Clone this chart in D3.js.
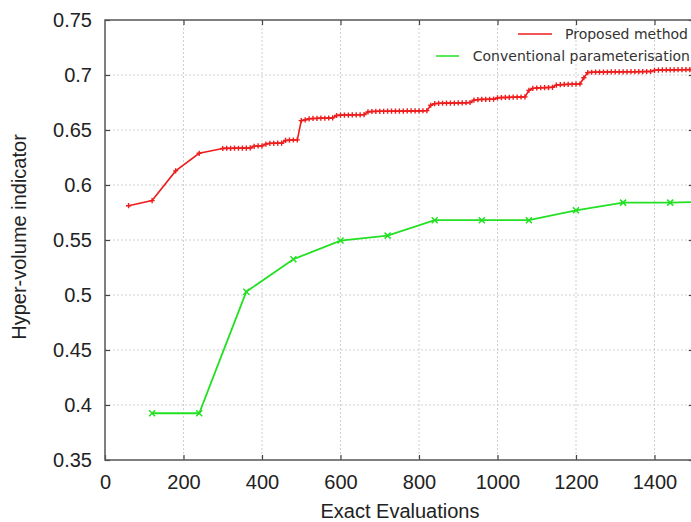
<!DOCTYPE html>
<html>
<head>
<meta charset="utf-8">
<script src="https://cdn.jsdelivr.net/npm/d3@7"></script>
<style>
  body { margin: 0; background: #fff; }
  svg { display: block; }
</style>
</head>
<body>
<div id="stage"></div>
<script>
// evaluations / hyper-volume for the proposed method (red)
const proposedEvals = [60, 120, 180, 240,
  300, 310, 320, 330, 340, 350, 360, 370, 380, 390, 400, 410, 420, 430, 440, 450,
  460, 470, 480, 490, 500, 510, 520, 530, 540, 550, 560, 570, 580, 590, 600, 610,
  620, 630, 640, 650, 660, 670, 680, 690, 700, 710, 720, 730, 740, 750, 760, 770,
  780, 790, 800, 810, 820, 830, 840, 850, 860, 870, 880, 890, 900, 910, 920, 930,
  940, 950, 960, 970, 980, 990, 1000, 1010, 1020, 1030, 1040, 1050, 1060, 1070,
  1080, 1090, 1100, 1110, 1120, 1130, 1140, 1150, 1160, 1170, 1180, 1190, 1200, 1210,
  1220, 1230, 1240, 1250, 1260, 1270, 1280, 1290, 1300, 1310, 1320, 1330, 1340, 1350,
  1360, 1370, 1380, 1390, 1400, 1410, 1420, 1430, 1440, 1450, 1460, 1470, 1480, 1490, 1500];
const proposedHV = [0.5812, 0.5858, 0.6128, 0.6288,
  0.6332, 0.6334, 0.6333, 0.6335, 0.6334, 0.6336, 0.6335, 0.6337,
  0.6352, 0.6355, 0.6356,
  0.6372, 0.6378, 0.6379, 0.6381, 0.6380,
  0.6405, 0.6408, 0.6409, 0.6410,
  0.6585, 0.6592,
  0.6602, 0.6605, 0.6606, 0.6608, 0.6607, 0.6609, 0.6610,
  0.6632, 0.6635, 0.6636, 0.6636, 0.6637, 0.6638, 0.6638, 0.6640,
  0.6665, 0.6668, 0.6669, 0.6670, 0.6670, 0.6671, 0.6671, 0.6672, 0.6672, 0.6672, 0.6673, 0.6673, 0.6674, 0.6674, 0.6675, 0.6676,
  0.6725,
  0.6740, 0.6742, 0.6743, 0.6744, 0.6744, 0.6745, 0.6746, 0.6747, 0.6748, 0.6750,
  0.6772, 0.6776, 0.6778, 0.6778, 0.6779, 0.6780,
  0.6792, 0.6795, 0.6796, 0.6797, 0.6798, 0.6799, 0.6800, 0.6801,
  0.6860, 0.6878, 0.6882, 0.6884, 0.6885, 0.6886, 0.6888,
  0.6908, 0.6912, 0.6914, 0.6915, 0.6916, 0.6917, 0.6918,
  0.6975,
  0.7022, 0.7025, 0.7026, 0.7026, 0.7027, 0.7027, 0.7028, 0.7028, 0.7028, 0.7029, 0.7029, 0.7030, 0.7030, 0.7031, 0.7031, 0.7032, 0.7032,
  0.7042, 0.7045, 0.7046, 0.7046, 0.7047, 0.7047, 0.7048, 0.7048, 0.7049, 0.7049, 0.7050];

// conventional parameterisation (green)
const conventionalEvals = [120, 240, 360, 480, 600, 720, 840, 960, 1080, 1200, 1320, 1440, 1560];
const conventionalHV = [0.3925, 0.3925, 0.503, 0.5325, 0.5495, 0.554, 0.568, 0.568, 0.568, 0.577, 0.584, 0.584, 0.585];

const xTicks = [0, 200, 400, 600, 800, 1000, 1200, 1400];
const yTicks = [0.35, 0.4, 0.45, 0.5, 0.55, 0.6, 0.65, 0.7, 0.75];
const seriesNames = ['Proposed method', 'Conventional parameterisation'];

const width = 691, height = 522;
const plotLeft = 105, plotTop = 20, plotBottom = 460;

const svg = d3.select('#stage').append('svg')
  .attr('width', width)
  .attr('height', height)
  .style('font-family', 'Liberation Sans, Arial, sans-serif');

const x = d3.scaleLinear().domain([0, 1500]).range([plotLeft, plotLeft + 1500 * 0.3925]);
const y = d3.scaleLinear().domain([0.35, 0.75]).range([plotBottom, plotTop]);
const plotRight = x(1500);

svg.append('defs').append('clipPath').attr('id', 'plot')
  .append('rect')
  .attr('x', plotLeft).attr('y', plotTop)
  .attr('width', plotRight - plotLeft).attr('height', plotBottom - plotTop);

// grid
svg.append('g')
  .selectAll('line')
  .data(xTicks.slice(1))
  .join('line')
  .attr('x1', d => x(d)).attr('x2', d => x(d))
  .attr('y1', plotTop).attr('y2', plotBottom)
  .style('stroke', '#cfcfcf')
  .style('stroke-width', 1)
  .style('stroke-dasharray', '2,2');

svg.append('g')
  .selectAll('line')
  .data(yTicks.slice(1, -1))
  .join('line')
  .attr('x1', plotLeft).attr('x2', plotRight)
  .attr('y1', d => y(d)).attr('y2', d => y(d))
  .style('stroke', '#cfcfcf')
  .style('stroke-width', 1)
  .style('stroke-dasharray', '2,2');

// axes with inward ticks
const xAxis = svg.append('g')
  .attr('transform', `translate(0,${plotBottom})`)
  .call(d3.axisBottom(x).tickValues(xTicks).tickSize(-5).tickPadding(15).tickFormat(d3.format('d')));
const xAxisTop = svg.append('g')
  .attr('transform', `translate(0,${plotTop})`)
  .call(d3.axisTop(x).tickValues(xTicks.slice(1)).tickSize(-5).tickFormat(''));
const yAxis = svg.append('g')
  .attr('transform', `translate(${plotLeft},0)`)
  .call(d3.axisLeft(y).tickValues(yTicks).tickSize(-5).tickPadding(13).tickFormat(d => String(+d.toFixed(2))));
const yAxisRight = svg.append('g')
  .attr('transform', `translate(${plotRight},0)`)
  .call(d3.axisRight(y).tickValues(yTicks).tickSize(-5).tickFormat(''));

[xAxis, xAxisTop, yAxis, yAxisRight].forEach(g => {
  g.select('.domain').remove();
  g.selectAll('line').style('stroke', '#444').style('stroke-width', 1.2);
  g.selectAll('text').style('font-size', '20px').style('fill', '#222')
    .style('font-family', 'Liberation Sans, Arial, sans-serif');
});
xAxis.selectAll('text').attr('dy', '0.71em');

// border
svg.append('rect')
  .attr('x', plotLeft).attr('y', plotTop)
  .attr('width', plotRight - plotLeft).attr('height', plotBottom - plotTop)
  .style('fill', 'none')
  .style('stroke', '#555')
  .style('stroke-width', 1.5);

// series
const plot = svg.append('g').attr('clip-path', 'url(#plot)');

const redPts = proposedEvals.map((e, i) => [e, proposedHV[i]]);
const greenPts = conventionalEvals.map((e, i) => [e, conventionalHV[i]]);
const line = d3.line().x(d => x(d[0])).y(d => y(d[1]));

plot.append('path')
  .datum(greenPts)
  .attr('d', line)
  .style('fill', 'none')
  .style('stroke', '#22e022')
  .style('stroke-width', 1.8);

plot.selectAll('path.xm')
  .data(greenPts)
  .join('path')
  .attr('class', 'xm')
  .attr('d', d => {
    const cx = x(d[0]), cy = y(d[1]), s = 3;
    return `M${cx - s},${cy - s}L${cx + s},${cy + s}M${cx - s},${cy + s}L${cx + s},${cy - s}`;
  })
  .style('stroke', '#22e022')
  .style('stroke-width', 1.5);

plot.append('path')
  .datum(redPts)
  .attr('d', line)
  .style('fill', 'none')
  .style('stroke', '#ee1c1c')
  .style('stroke-width', 1.6);

plot.selectAll('path.pm')
  .data(redPts)
  .join('path')
  .attr('class', 'pm')
  .attr('d', d => {
    const cx = x(d[0]), cy = y(d[1]), s = 2.6;
    return `M${cx - s},${cy}L${cx + s},${cy}M${cx},${cy - s}L${cx},${cy + s}`;
  })
  .style('stroke', '#ee1c1c')
  .style('stroke-width', 1.4);

// legend
const legend = svg.append('g').style('font-family', 'DejaVu Sans, sans-serif').style('font-size', '14px');
legend.append('line').attr('x1', 518).attr('x2', 552).attr('y1', 34).attr('y2', 34)
  .style('stroke', '#ee1c1c').style('stroke-width', 1.5);
legend.append('text').attr('x', 688).attr('y', 39).attr('text-anchor', 'end')
  .style('fill', '#333').text(seriesNames[0]);
legend.append('line').attr('x1', 436).attr('x2', 459).attr('y1', 56).attr('y2', 56)
  .style('stroke', '#22e022').style('stroke-width', 1.5);
legend.append('text').attr('x', 690).attr('y', 61).attr('text-anchor', 'end')
  .style('fill', '#333').text(seriesNames[1]);

// axis titles
svg.append('text')
  .attr('x', 400).attr('y', 518)
  .attr('text-anchor', 'middle')
  .style('font-size', '20px')
  .style('fill', '#222')
  .text('Exact Evaluations');

svg.append('text')
  .attr('transform', 'translate(26,237) rotate(-90)')
  .attr('text-anchor', 'middle')
  .style('font-size', '20px')
  .style('fill', '#222')
  .text('Hyper-volume indicator');
</script>
</body>
</html>
